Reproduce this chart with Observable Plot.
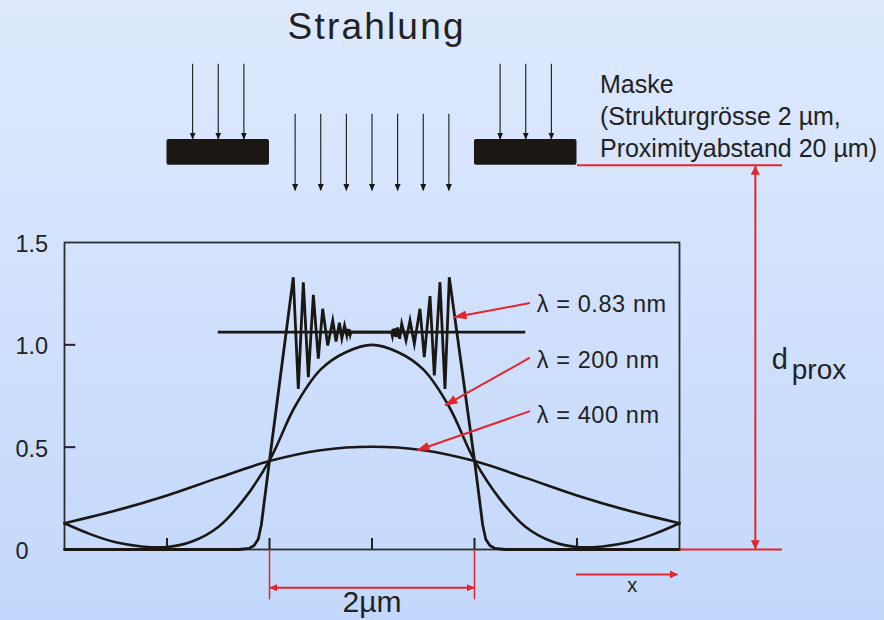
<!DOCTYPE html>
<html>
<head>
<meta charset="utf-8">
<script src="https://cdn.jsdelivr.net/npm/d3@7"></script>
<script src="https://cdn.jsdelivr.net/npm/@observablehq/plot@0.6"></script>
<style>
  html, body { margin: 0; padding: 0; }
  body {
    width: 884px; height: 620px; overflow: hidden;
    background: linear-gradient(to bottom, #dee9fd 0%, #c3d8fc 100%);
    font-family: "Liberation Sans", Arial, sans-serif;
  }
</style>
</head>
<body>
<div id="chart"></div>
<script>
// ---------- data (x in µm, intensity relative) ----------
const xTicks = [-2, -1, 0, 1, 2];
const yTicks = [0, 0.5, 1.0, 1.5];
const yTickLabels = ["0", "0.5", "1.0", "1.5"];

// λ = 400 nm
const pos400 = [-3, -2.5, -2, -1.5, -1, -0.5, 0, 0.5, 1, 1.5, 2, 2.5, 3];
const int400 = [0.128, 0.19, 0.264, 0.35, 0.432, 0.485, 0.502, 0.485, 0.432, 0.35, 0.264, 0.19, 0.128];

// λ = 200 nm
const pos200 = [-3, -2.75, -2.5, -2.25, -2, -1.75, -1.5, -1.25, -1, -0.75, -0.5, -0.25, 0,
                0.25, 0.5, 0.75, 1, 1.25, 1.5, 1.75, 2, 2.25, 2.5, 2.75, 3];
const int200 = [0.128, 0.075, 0.035, 0.015, 0.012, 0.04, 0.11, 0.245, 0.435, 0.70, 0.88, 0.965, 1.0,
                0.965, 0.88, 0.70, 0.435, 0.245, 0.11, 0.04, 0.012, 0.015, 0.035, 0.075, 0.128];

// λ = 0.83 nm (zig-zag vertices)
const pos083 = [-3, -1.3, -1.2, -1.15, -1.11, -1.08, -1.0, -0.768, -0.719, -0.670, -0.621, -0.572, -0.524,
                -0.481, -0.432, -0.383, -0.351, -0.318, -0.294, -0.268, -0.246, -0.236, -0.228, -0.220, -0.212, -0.205,
                0.19, 0.198, 0.206, 0.214, 0.224, 0.236, 0.25, 0.27, 0.29, 0.332, 0.371, 0.413, 0.468, 0.51, 0.566,
                0.608, 0.663, 0.712, 0.754, 1.0, 1.08, 1.11, 1.15, 1.2, 1.3, 3];
const int083 = [0, 0, 0.005, 0.02, 0.05, 0.12, 0.435, 1.33, 0.785, 1.306, 0.842, 1.244, 0.932,
                1.176, 0.997, 1.119, 1.016, 1.108, 1.032, 1.094, 1.046, 1.078, 1.045, 1.075, 1.05, 1.062,
                1.062, 1.045, 1.078, 1.042, 1.08, 1.038, 1.085, 1.03, 1.103, 1.021, 1.119, 1.005, 1.176, 0.94, 1.238,
                0.85, 1.306, 0.785, 1.33, 0.435, 0.12, 0.05, 0.02, 0.005, 0, 0];

const refLevel = [1.062];          // horizontal reference line of the 0.83 nm curve
const refSpan = [-1.5, 1.5];

// mask
const maskBars = [{x1: -2, x2: -1}, {x1: 1, x2: 2}];
const maskTop = 2.003, maskBottom = 1.877;
const topArrowX = [-1.75, -1.5, -1.25, 1.25, 1.5, 1.75];
const midArrowX = [-0.75, -0.5, -0.25, 0, 0.25, 0.5, 0.75];

// labels
const curveLabels = ["λ = 0.83 nm", "λ = 200 nm", "λ = 400 nm"];
const labelY = [1.159, 0.888, 0.617];
const pointerFrom = [[1.541, 1.204], [1.541, 0.937], [1.541, 0.676]];
const pointerTo = [[0.80, 1.135], [0.712, 0.704], [0.439, 0.484]];

const maskText = "Maske\n(Strukturgrösse 2 µm,\nProximityabstand 20 µm)";

// ---------- helpers ----------
const INK = "#1b1814";
const RED = "#e3262b";
const TXT = "#222222";
const FONT = "Liberation Sans, Arial, sans-serif";

function head(len, wid, reverse) {
  return (color) => {
    const m = d3.create("svg:marker")
      .attr("viewBox", `0 ${-wid / 2} ${len} ${wid}`)
      .attr("markerWidth", len).attr("markerHeight", wid)
      .attr("markerUnits", "userSpaceOnUse")
      .attr("refX", len - 0.5).attr("refY", 0)
      .attr("orient", reverse ? "auto-start-reverse" : "auto");
    m.append("path")
      .attr("d", `M0,${-wid / 2}L${len},0L0,${wid / 2}Z`)
      .attr("fill", color).attr("stroke", "none");
    return m.node();
  };
}

const toRows = (xs, vs) => xs.map((x, i) => ({x, v: vs[i]}));

const chart = Plot.plot({
  width: 884,
  height: 620,
  marginLeft: 64,
  marginRight: 205,
  marginTop: 242,
  marginBottom: 71,
  style: {background: "transparent", fontFamily: FONT, overflow: "visible"},
  x: {domain: [-3, 3], axis: null},
  y: {domain: [0, 1.5], axis: null},
  marks: [
    // frame + ticks
    Plot.frame({stroke: "#2e2e2e", strokeWidth: 1.8}),
    Plot.ruleY(yTicks.filter(d => d > 0 && d < 1.5), {y: d => d, x1: -3, x2: -2.89, stroke: "#222", strokeWidth: 2}),
    Plot.ruleX(xTicks, {x: d => d, y1: 0, y2: 0.054, stroke: "#222", strokeWidth: 2}),
    Plot.text(yTicks, {x: -3, y: d => d, text: (d, i) => yTickLabels[i], textAnchor: "start",
      dx: -49, dy: 2, fontSize: 23.5, fill: TXT}),

    // curves
    Plot.line(toRows(pos400, int400), {x: "x", y: "v", curve: "catmull-rom", stroke: INK, strokeWidth: 2.6}),
    Plot.line(toRows(pos200, int200), {x: "x", y: "v", curve: "catmull-rom", stroke: INK, strokeWidth: 2.6}),
    Plot.ruleY(refLevel, {y: d => d, x1: refSpan[0], x2: refSpan[1], stroke: INK, strokeWidth: 2.6}),
    Plot.line(toRows(pos083, int083), {x: "x", y: "v", curve: "linear", stroke: INK, strokeWidth: 2.8,
      strokeLinejoin: "miter", strokeMiterlimit: 6}),

    // mask and radiation arrows
    Plot.rect(maskBars, {x1: "x1", x2: "x2", y1: maskBottom, y2: maskTop, fill: INK, rx: 2}),
    Plot.link(topArrowX, {x1: d => d, x2: d => d, y1: 2.373, y2: maskTop + 0.002, stroke: INK, strokeWidth: 1.1,
      markerEnd: head(7, 6)}),
    Plot.link(midArrowX, {x1: d => d, x2: d => d, y1: 2.129, y2: 1.754, stroke: INK, strokeWidth: 1.1,
      markerEnd: head(7, 6)}),
    Plot.text(["Strahlung"], {x: 0.045, y: 2.492, text: d => d, lineAnchor: "bottom", fontSize: 37, fill: TXT}),
    Plot.text([maskText], {x: 2.224, y: 1.917, text: d => d, textAnchor: "start", lineAnchor: "bottom",
      lineHeight: 1.28, fontSize: 25, fill: TXT}),

    // proximity distance
    Plot.link([0], {x1: 2, x2: 4, y1: maskBottom, y2: maskBottom, stroke: RED, strokeWidth: 2}),
    Plot.link([0], {x1: 3, x2: 4, y1: 0, y2: 0, stroke: RED, strokeWidth: 2}),
    Plot.link([0], {x1: 3.74, x2: 3.74, y1: 0.004, y2: maskBottom - 0.004, stroke: RED, strokeWidth: 2,
      markerStart: head(9, 9, true), markerEnd: head(9, 9)}),
    Plot.text(["d"], {x: 3.9, y: 0.883, text: d => d, textAnchor: "start", lineAnchor: "bottom", fontSize: 29, fill: TXT}),
    Plot.text(["prox"], {x: 4.095, y: 0.834, text: d => d, textAnchor: "start", lineAnchor: "bottom", fontSize: 28, fill: TXT}),

    // curve labels + pointers
    Plot.link(pointerFrom, {x1: (d) => d[0], y1: d => d[1], x2: (d, i) => pointerTo[i][0], y2: (d, i) => pointerTo[i][1],
      stroke: RED, strokeWidth: 2, markerEnd: head(13, 9)}),
    Plot.text(curveLabels, {x: 1.607, y: (d, i) => labelY[i], text: d => d, textAnchor: "start", lineAnchor: "bottom",
      fontSize: 23.5, fill: TXT}),

    // 2 µm dimension
    Plot.ruleX([-1, 1], {x: d => d, y1: 0, y2: -0.246, stroke: RED, strokeWidth: 1.5}),
    Plot.link([0], {x1: -1, x2: 1, y1: -0.187, y2: -0.187, stroke: RED, strokeWidth: 2,
      markerStart: head(8, 7, true), markerEnd: head(8, 7)}),
    Plot.text(["2µm"], {x: 0, y: -0.306, text: d => d, lineAnchor: "bottom", fontSize: 30, fill: TXT}),

    // x direction
    Plot.link([0], {x1: 1.99, x2: 2.98, y1: -0.122, y2: -0.122, stroke: RED, strokeWidth: 2, markerEnd: head(8, 8)}),
    Plot.text(["x"], {x: 2.54, y: -0.21, text: d => d, lineAnchor: "bottom", fontSize: 20, fill: TXT})
  ]
});

// letter spacing tweaks to match the reference typography
d3.select(chart).selectAll("text").each(function () {
  const t = this.textContent;
  if (t === "Strahlung") d3.select(this).attr("letter-spacing", 2.2);
  else if (t.startsWith("λ")) d3.select(this).attr("letter-spacing", 0.6);
});

document.getElementById("chart").appendChild(chart);
</script>
</body>
</html>
